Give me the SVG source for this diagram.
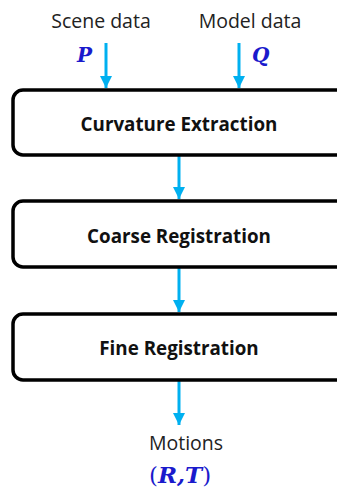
<svg xmlns="http://www.w3.org/2000/svg" width="337" height="492" viewBox="0 0 337 492">
<style>
.box{fill:#fff;stroke:#000;stroke-width:3.5}
.lbl{font-family:"Open Sans","Liberation Sans",sans-serif;font-weight:bold;font-size:18.8px;fill:#111;text-anchor:middle}
.txt{font-family:"Open Sans","Liberation Sans",sans-serif;font-size:19.5px;fill:#222;text-anchor:middle}
.math{font-family:"DejaVu Serif","Liberation Serif",serif;font-weight:bold;font-style:italic;font-size:20px;fill:#1a1acc}
.up{font-style:normal;font-weight:normal}
.con{stroke:#00b0f0;stroke-width:3;fill:none}
</style>
<defs>
<marker id="ah" markerWidth="4" markerHeight="4" refX="4" refY="2" orient="auto" markerUnits="strokeWidth">
<path d="M0,0 L4,2 L0,4 Z" fill="#00b0f0"/>
</marker>
</defs>
<g id="inputs">
<text class="txt" x="101" y="28">Scene data</text>
<text class="txt" x="250" y="28">Model data</text>
<text class="math" x="77" y="62">P</text>
<text class="math" x="252" y="62">Q</text>
</g>
<g id="connectors">
<line class="con" x1="106" y1="43" x2="106" y2="88" marker-end="url(#ah)"/>
<line class="con" x1="239" y1="43" x2="239" y2="88" marker-end="url(#ah)"/>
<line class="con" x1="179" y1="156" x2="179" y2="199" marker-end="url(#ah)"/>
<line class="con" x1="179" y1="268" x2="179" y2="312" marker-end="url(#ah)"/>
<line class="con" x1="179" y1="381" x2="179" y2="425" marker-end="url(#ah)"/>
</g>
<g id="curvature">
<rect class="box" x="13" y="90" width="335" height="65" rx="10"/>
<text class="lbl" x="179" y="131">Curvature Extraction</text>
</g>
<g id="coarse">
<rect class="box" x="13" y="201" width="335" height="66" rx="10"/>
<text class="lbl" x="179" y="243">Coarse Registration</text>
</g>
<g id="fine">
<rect class="box" x="13" y="314" width="335" height="66" rx="10"/>
<text class="lbl" x="179" y="355">Fine Registration</text>
</g>
<g id="output">
<text class="txt" x="186" y="450">Motions</text>
<text class="math" x="180" y="483" text-anchor="middle" style="font-size:23px"><tspan class="up">(</tspan>R,T<tspan class="up">)</tspan></text>
</g>
</svg>
